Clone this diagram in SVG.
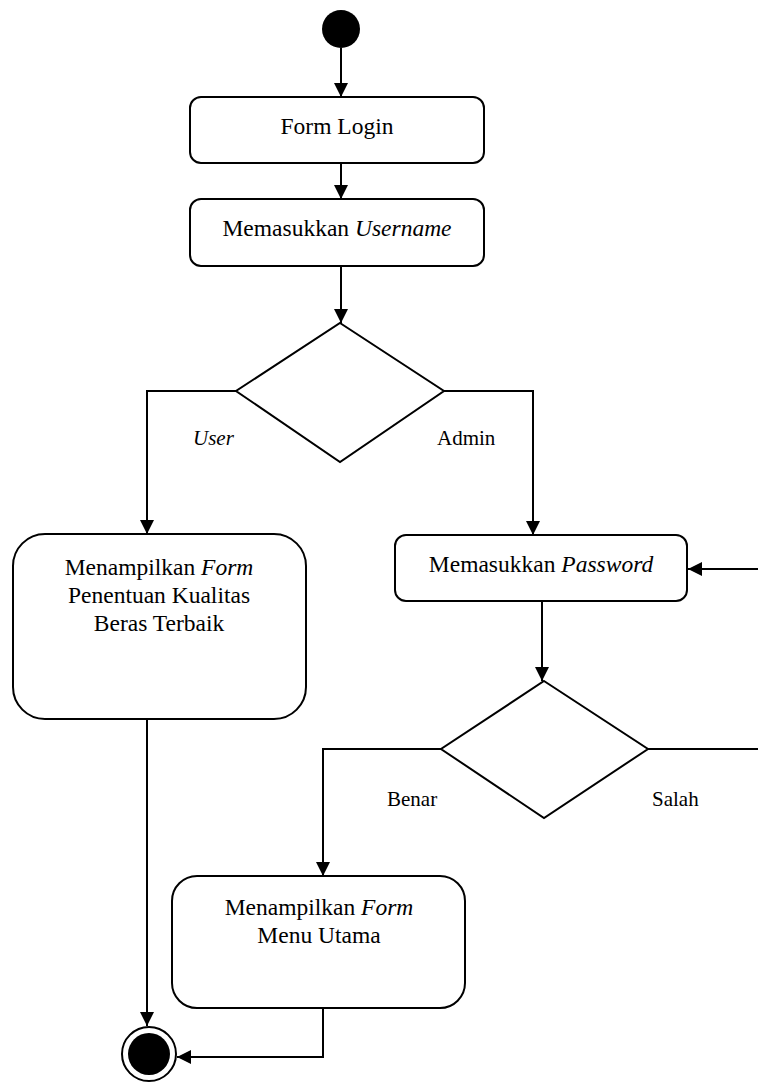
<svg xmlns="http://www.w3.org/2000/svg" width="758" height="1082" viewBox="0 0 758 1082">
<style>
.box{fill:#fff;stroke:#000;stroke-width:2}
.dia{fill:#fff;stroke:#000;stroke-width:2}
.c{fill:none;stroke:#000;stroke-width:2}
.t{font-family:"Liberation Serif","Times New Roman",serif;font-size:23.5px;fill:#000;text-anchor:middle}
.l{font-family:"Liberation Serif","Times New Roman",serif;font-size:21px;fill:#000}
.i{font-style:italic}
</style>
<defs>
<marker id="ah" markerUnits="userSpaceOnUse" markerWidth="14" markerHeight="14" viewBox="0 0 14 14" refX="14" refY="7" orient="auto">
<path d="M0,0 L14,7 L0,14 z" fill="#000"/>
</marker>
</defs>
<g id="connectors">
<line class="c" x1="341" y1="48" x2="341" y2="97" marker-end="url(#ah)"/>
<line class="c" x1="341" y1="163" x2="341" y2="199" marker-end="url(#ah)"/>
<line class="c" x1="341" y1="266" x2="341" y2="323" marker-end="url(#ah)"/>
<polyline class="c" points="236,391 147,391 147,534" marker-end="url(#ah)"/>
<polyline class="c" points="444,391 533,391 533,535" marker-end="url(#ah)"/>
<line class="c" x1="542" y1="601" x2="542" y2="681" marker-end="url(#ah)"/>
<line class="c" x1="648" y1="749" x2="758" y2="749"/>
<line class="c" x1="758" y1="569" x2="688" y2="569" marker-end="url(#ah)"/>
<polyline class="c" points="441,749 323,749 323,876" marker-end="url(#ah)"/>
<line class="c" x1="147" y1="719" x2="147" y2="1026" marker-end="url(#ah)"/>
<polyline class="c" points="323,1008 323,1057 177,1057" marker-end="url(#ah)"/>
</g>
<g id="start"><circle cx="341" cy="29" r="19" fill="#000"/></g>
<g id="formLogin">
<rect class="box" x="190" y="97" width="294" height="66" rx="11"/>
<text class="t" x="337" y="134">Form Login</text>
</g>
<g id="username">
<rect class="box" x="190" y="199" width="294" height="67" rx="11"/>
<text class="t" x="337" y="236">Memasukkan <tspan class="i">Username</tspan></text>
</g>
<g id="decision1">
<polygon class="dia" points="340,323 444,391 340,462 236,391"/>
</g>
<text class="l i" x="193" y="445">User</text>
<text class="l" x="437" y="445">Admin</text>
<g id="formUser">
<rect class="box" x="13" y="534" width="293" height="185" rx="32"/>
<text class="t" x="159" y="575">Menampilkan <tspan class="i">Form</tspan></text>
<text class="t" x="159" y="603">Penentuan Kualitas</text>
<text class="t" x="159" y="631">Beras Terbaik</text>
</g>
<g id="password">
<rect class="box" x="395" y="535" width="292" height="66" rx="11"/>
<text class="t" x="541" y="572">Memasukkan <tspan class="i">Password</tspan></text>
</g>
<g id="decision2">
<polygon class="dia" points="544,681 648,749 544,818 441,749"/>
</g>
<text class="l" x="387" y="806">Benar</text>
<text class="l" x="652" y="806">Salah</text>
<g id="menuUtama">
<rect class="box" x="172" y="876" width="293" height="132" rx="25"/>
<text class="t" x="319" y="915">Menampilkan <tspan class="i">Form</tspan></text>
<text class="t" x="319" y="943">Menu Utama</text>
</g>
<g id="end">
<circle cx="149" cy="1054" r="27" fill="#fff" stroke="#000" stroke-width="2"/>
<circle cx="149" cy="1054" r="21" fill="#000"/>
</g>
</svg>
